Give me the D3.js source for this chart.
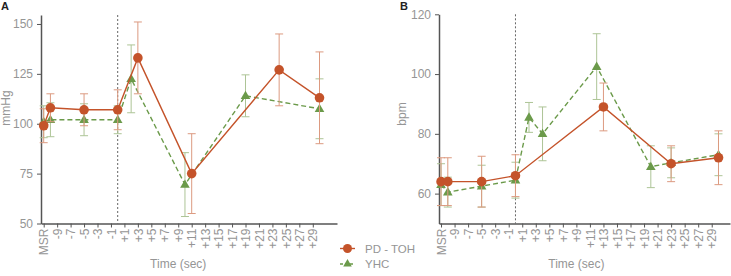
<!DOCTYPE html>
<html>
<head>
<meta charset="utf-8">
<script src="https://cdn.jsdelivr.net/npm/d3@7"></script>
<style>
  body { margin: 0; background: #fff; }
  svg { display: block; font-family: "Liberation Sans", Arial, sans-serif; }
</style>
</head>
<body>
<svg id="chart" width="731" height="276"></svg>
<script>
// tick positions (seconds, MSR drawn at -11)
const tickValues = [-11, -9, -7, -5, -3, -1, 1, 3, 5, 7, 9, 11, 13, 15, 17, 19, 21, 23, 25, 27, 29];
const tickLabels = ["MSR", "-9", "-7", "-5", "-3", "-1", "+1", "+3", "+5", "+7", "+9", "+11", "+13", "+15", "+17", "+19", "+21", "+23", "+25", "+27", "+29"];

// Panel A - blood pressure (mmHg)
const pdTimeA = [-11, -10, -5, 0, 3, 11, 24, 30];
const pdValA = [99, 108, 107, 107, 133, 75, 127, 113];
const pdErrA = [8.5, 7, 8, 10, 18, 20, 18, 23];
const yhcTimeA = [-11, -10, -5, 0, 2, 10, 19, 30];
const yhcValA = [101, 102, 102, 102, 122.5, 69.5, 114, 107.5];
const yhcErrA = [8, 8.5, 8, 7, 17, 16, 10.5, 15];
const yTicksA = [50, 75, 100, 125, 150];

// Panel B - heart rate (bpm)
const pdTimeB = [-11, -10, -5, 0, 13, 23, 30];
const pdValB = [64, 64, 64, 66, 89, 70, 72];
const pdErrB = [8, 8, 8.5, 7, 8, 6, 9];
const yhcTimeB = [-11, -10, -5, 0, 2, 4, 12, 20, 23, 30];
const yhcValB = [63, 60.5, 62.5, 64.5, 85.5, 80, 102.5, 69, 70.3, 73];
const yhcErrB = [7, 5, 7, 6, 5, 9, 11, 7, 5, 7];
const yTicksB = [60, 80, 100, 120];

const orange = "#c4532a", orangeBar = "#dc9a80";
const green = "#6b9a4a", greenBar = "#adc496";
const grey = "#959595", axisCol = "#555";

const svg = d3.select("#chart");

function zip(t, v, e) {
    return t.map((d, i) => ({ t: d, v: v[i], e: e[i] }));
}

function drawPanel(p) {
    const x = d3.scaleLinear().domain(p.xDomain).range(p.xRange);
    const y = d3.scaleLinear().domain(p.yDomain).range([223.5, p.yTop]);
    const g = svg.append("g");

    // y axis
    const yAxis = d3.axisLeft(y).tickValues(p.yTicks).tickSize(4).tickPadding(4).tickSizeOuter(0);
    const ya = g.append("g").attr("transform", `translate(${p.xRange[0]},0)`).call(yAxis);
    ya.select(".domain").attr("stroke", axisCol).attr("stroke-width", 1.5);
    ya.selectAll(".tick line").attr("stroke", axisCol);
    ya.selectAll(".tick text").attr("fill", grey).style("font-size", "12px");

    // x axis
    const xAxis = d3.axisBottom(x).tickValues(tickValues)
        .tickFormat((d, i) => tickLabels[i]).tickSize(4).tickSizeOuter(0);
    const xa = g.append("g").attr("transform", "translate(0,223.5)").call(xAxis);
    xa.select(".domain").attr("stroke", axisCol).attr("stroke-width", 1.5);
    xa.selectAll(".tick line").attr("stroke", axisCol);
    xa.selectAll(".tick text")
        .attr("fill", grey).style("font-size", "12px")
        .attr("transform", "rotate(-90)")
        .attr("text-anchor", "end")
        .attr("x", -5).attr("y", 0).attr("dy", "0.35em");

    // onset line at t = 0
    g.append("line")
        .attr("x1", x(0)).attr("x2", x(0))
        .attr("y1", p.yTop).attr("y2", 223.5)
        .attr("stroke", "#666").attr("stroke-width", 1)
        .attr("stroke-dasharray", "2,2");

    const series = [
        { data: zip(p.yhcT, p.yhcV, p.yhcE), col: green, bar: greenBar, dash: "5,3", sym: "tri" },
        { data: zip(p.pdT, p.pdV, p.pdE), col: orange, bar: orangeBar, dash: null, sym: "circle" }
    ];

    series.forEach(s => {
        const sg = g.append("g");
        // error bars
        const eb = sg.selectAll(".eb").data(s.data).enter().append("g");
        eb.append("line")
            .attr("x1", d => x(d.t)).attr("x2", d => x(d.t))
            .attr("y1", d => y(d.v - d.e)).attr("y2", d => y(d.v + d.e));
        [1, -1].forEach(k => {
            eb.append("line")
                .attr("x1", d => x(d.t) - 4).attr("x2", d => x(d.t) + 4)
                .attr("y1", d => y(d.v + k * d.e)).attr("y2", d => y(d.v + k * d.e));
        });
        eb.selectAll("line").attr("stroke", s.bar).attr("stroke-width", 1);

        sg.append("path")
            .datum(s.data)
            .attr("fill", "none")
            .attr("stroke", s.col)
            .attr("stroke-width", 1.4)
            .attr("stroke-dasharray", s.dash)
            .attr("d", d3.line().x(d => x(d.t)).y(d => y(d.v)));

        if (s.sym === "circle") {
            sg.selectAll("circle").data(s.data).enter().append("circle")
                .attr("cx", d => x(d.t)).attr("cy", d => y(d.v))
                .attr("r", 4.8).attr("fill", s.col);
        } else {
            sg.selectAll(".tri").data(s.data).enter().append("path")
                .attr("transform", d => `translate(${x(d.t)},${y(d.v) + 0.5})`)
                .attr("d", d3.symbol(d3.symbolTriangle, 40))
                .attr("fill", s.col);
        }
    });

    // axis titles
    const xMid = (x(-11) + x(29)) / 2;
    g.append("text").attr("x", xMid).attr("y", 268)
        .attr("text-anchor", "middle").attr("fill", grey).style("font-size", "12px")
        .text("Time (sec)");
    g.append("text")
        .attr("transform", `translate(${p.yLabelX},${p.yLabelY}) rotate(-90)`)
        .attr("text-anchor", "middle").attr("fill", grey).style("font-size", "12px")
        .text(p.yLabel);

    g.append("text").attr("x", p.letterX).attr("y", 10)
        .attr("font-weight", "bold").attr("fill", "#222").style("font-size", "11px")
        .text(p.letter);
}

drawPanel({
    xDomain: [-11.4, 32.6], xRange: [41, 337],
    yDomain: [50, 154.5], yTop: 15, yTicks: yTicksA,
    pdT: pdTimeA, pdV: pdValA, pdE: pdErrA,
    yhcT: yhcTimeA, yhcV: yhcValA, yhcE: yhcErrA,
    yLabel: "mmHg", yLabelX: 10, yLabelY: 108, letter: "A", letterX: 1
});

drawPanel({
    xDomain: [-11.3, 31.7], xRange: [439, 730],
    yDomain: [50, 120], yTop: 14.3, yTicks: yTicksB,
    pdT: pdTimeB, pdV: pdValB, pdE: pdErrB,
    yhcT: yhcTimeB, yhcV: yhcValB, yhcE: yhcErrB,
    yLabel: "bpm", yLabelX: 406, yLabelY: 114, letter: "B", letterX: 400
});

// legend
const legend = svg.append("g");
const legendItems = [
    { label: "PD - TOH", col: orange, dash: null, sym: "circle", y: 248.5 },
    { label: "YHC", col: green, dash: "3,2", sym: "tri", y: 264 }
];
legendItems.forEach(it => {
    legend.append("line")
        .attr("x1", 340).attr("x2", 355).attr("y1", it.y).attr("y2", it.y)
        .attr("stroke", it.col).attr("stroke-width", 1.4).attr("stroke-dasharray", it.dash);
    if (it.sym === "circle") {
        legend.append("circle").attr("cx", 347.5).attr("cy", it.y).attr("r", 4.5).attr("fill", it.col);
    } else {
        legend.append("path").attr("transform", `translate(347.5,${it.y})`)
            .attr("d", d3.symbol(d3.symbolTriangle, 32)).attr("fill", it.col);
    }
    legend.append("text").attr("x", 365).attr("y", it.y).attr("dy", "0.35em")
        .attr("fill", grey).style("font-size", "11.5px").text(it.label);
});
</script>
</body>
</html>
